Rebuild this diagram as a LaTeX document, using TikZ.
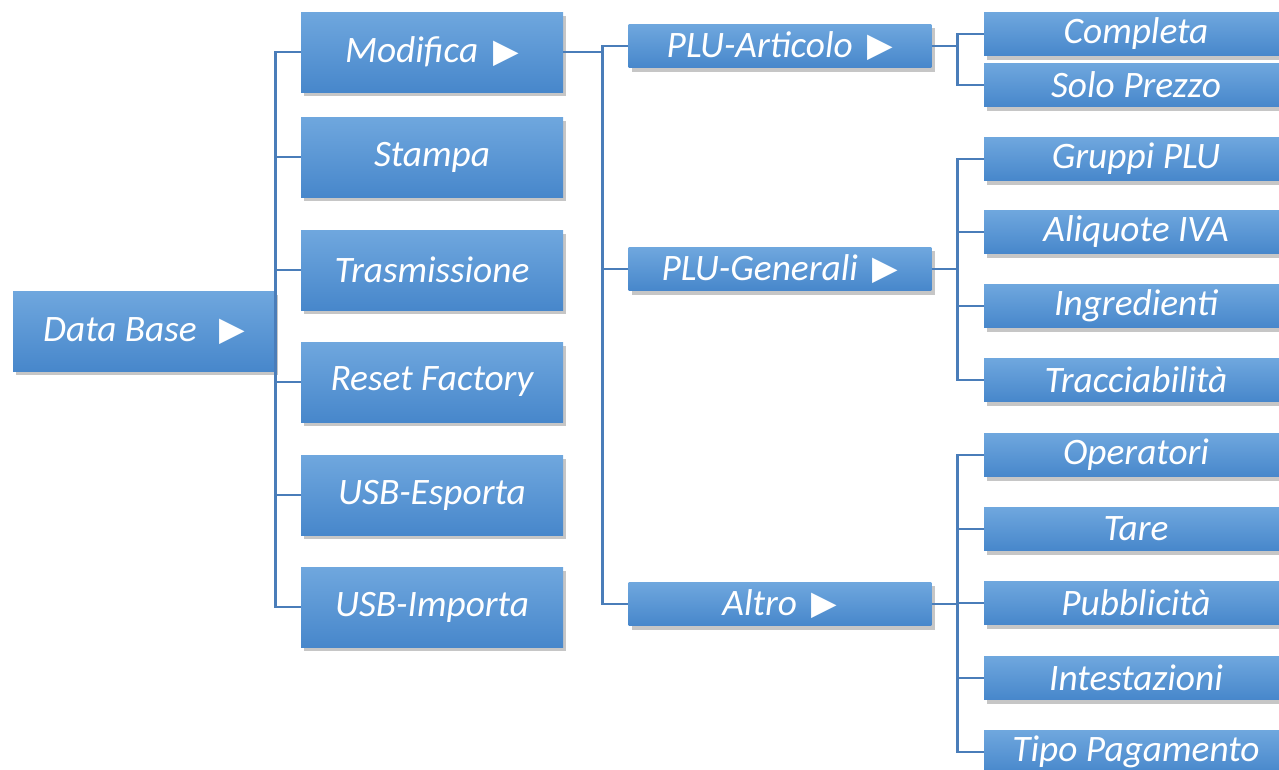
\documentclass[tikz,border=0pt]{standalone}
\usepackage{fontspec}
\setmainfont{Carlito}
\newfontfamily\symfont{DejaVu Sans}
\usetikzlibrary{positioning,shadows}
\definecolor{BoxTop}{HTML}{6FA7DE}
\definecolor{BoxBot}{HTML}{4787CB}
\definecolor{Wire}{HTML}{4A7DB9}
\tikzset{
  voce/.style={top color=BoxTop,bottom color=BoxBot,text=white,inner sep=0pt,
    font=\fontsize{28}{32}\selectfont\itshape,
    drop shadow={shadow xshift=2.5pt,shadow yshift=-3pt,opacity=0.45}},
  grande/.style={voce,minimum width=196.5pt,minimum height=60pt},
  media/.style={voce,minimum width=227pt,minimum height=32.5pt},
  foglia/.style={voce,minimum width=228pt,minimum height=32.5pt},
  wire/.style={Wire,line width=2.1pt},
}
\newcommand{\Voce}[5]{%
  \node[#1] (#2) at (#3,#4) {#5};%
}
\newcommand{\Freccia}{\hspace{0.4em}\raisebox{0.5pt}{\symfont\upshape\fontsize{25}{25}\selectfont ▶}}

\begin{document}
\begin{tikzpicture}[x=0.75pt,y=-0.75pt]
\useasboundingbox (0,0) rectangle (1279,769);
% primo livello
\Voce{grande}{db}{144}{331}{Data Base\hspace{0.2em}\Freccia}
\Voce{grande}{mod}{432}{52}{Modifica\Freccia}
\Voce{grande}{sta}{432}{157}{Stampa}
\Voce{grande}{tra}{432}{270}{Trasmissione}
\Voce{grande}{res}{432}{382}{Reset Factory}
\Voce{grande}{esp}{432}{495}{USB-Esporta}
\Voce{grande}{imp}{432}{607}{USB-Importa}
% secondo livello
\Voce{media}{art}{780}{46}{PLU-Articolo\Freccia}
\Voce{media}{gen}{780}{269}{PLU-Generali\Freccia}
\Voce{media}{alt}{780}{604}{Altro\Freccia}
% terzo livello
\Voce{foglia}{com}{1136}{34}{Completa}
\Voce{foglia}{sol}{1136}{85}{Solo Prezzo}
\Voce{foglia}{gru}{1136}{159}{Gruppi PLU}
\Voce{foglia}{ali}{1136}{232}{Aliquote IVA}
\Voce{foglia}{ing}{1136}{306}{Ingredienti}
\Voce{foglia}{trc}{1136}{380}{Tracciabilità}
\Voce{foglia}{ope}{1136}{455}{Operatori}
\Voce{foglia}{tar}{1136}{529}{Tare}
\Voce{foglia}{pub}{1136}{603}{Pubblicità}
\Voce{foglia}{int}{1136}{678}{Intestazioni}
\Voce{foglia}{tip}{1136}{752}{Tipo Pagamento}
% collegamenti
\draw[wire] (db.east) -- ++(2,0);
\draw[wire] (mod.west) -- ++(-25,0) |- (imp.west);
\foreach \n in {sta,tra,res,esp} \draw[wire] (\n.west) -- ++(-25,0);
\draw[wire] (mod.east) -- ++(40,0);
\draw[wire] (art.west) -- ++(-26,0) |- (alt.west);
\draw[wire] (gen.west) -- ++(-26,0);
\foreach \n in {art,gen,alt} \draw[wire] (\n.east) -- ++(26,0);
\draw[wire] (com.west) -- ++(-26,0) |- (sol.west);
\draw[wire] (gru.west) -- ++(-26,0) |- (trc.west);
\foreach \n in {ali,ing} \draw[wire] (\n.west) -- ++(-26,0);
\draw[wire] (ope.west) -- ++(-26,0) |- (tip.west);
\foreach \n in {tar,pub,int} \draw[wire] (\n.west) -- ++(-26,0);
\end{tikzpicture}
\end{document}
